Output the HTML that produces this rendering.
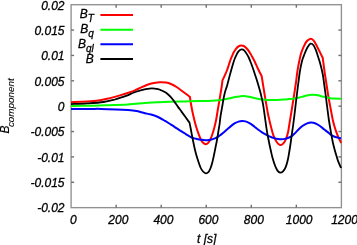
<!DOCTYPE html>
<html><head><meta charset="utf-8">
<style>
html,body{margin:0;padding:0;background:#fff;}
body{width:357px;height:245px;overflow:hidden;position:relative;font-family:"Liberation Sans",sans-serif;font-style:italic;font-size:12px;color:#000;}
svg{position:absolute;left:0;top:0;}
.txt{position:absolute;left:0;top:0;width:357px;height:245px;will-change:transform;-webkit-text-stroke:0.3px #000;}
.yl{position:absolute;right:292.5px;height:14px;line-height:14px;margin-top:-6.2px;white-space:nowrap;}
.xl{position:absolute;top:213.3px;width:40px;margin-left:-20px;text-align:center;line-height:14px;white-space:nowrap;}
.lg{position:absolute;right:263.2px;white-space:nowrap;line-height:14px;height:14px;}
.lg sub{font-size:10px;vertical-align:baseline;position:relative;top:4.1px;}
.ylab{position:absolute;left:0;top:0;transform-origin:0 0;transform:translate(-1.4px,133.5px) rotate(-90deg);white-space:nowrap;line-height:1;-webkit-text-stroke:0.1px #000;}
.ylab sub{font-size:9.9px;vertical-align:baseline;position:relative;top:5.1px;margin-left:-1.6px;}
.xt{position:absolute;left:197px;top:231.6px;white-space:nowrap;line-height:14px;}
</style></head><body>
<svg width="357" height="245" viewBox="0 0 357 245">
<rect x="71.10" y="4.70" width="270.30" height="202.95" fill="none" stroke="#909090" stroke-width="1.35"/>
<g stroke="#707070" stroke-width="1.4"><line x1="116.15" y1="207.65" x2="116.15" y2="204.65"/><line x1="116.15" y1="4.70" x2="116.15" y2="7.70"/><line x1="161.20" y1="207.65" x2="161.20" y2="204.65"/><line x1="161.20" y1="4.70" x2="161.20" y2="7.70"/><line x1="206.25" y1="207.65" x2="206.25" y2="204.65"/><line x1="206.25" y1="4.70" x2="206.25" y2="7.70"/><line x1="251.30" y1="207.65" x2="251.30" y2="204.65"/><line x1="251.30" y1="4.70" x2="251.30" y2="7.70"/><line x1="296.35" y1="207.65" x2="296.35" y2="204.65"/><line x1="296.35" y1="4.70" x2="296.35" y2="7.70"/><line x1="71.10" y1="30.07" x2="74.10" y2="30.07"/><line x1="341.40" y1="30.07" x2="338.40" y2="30.07"/><line x1="71.10" y1="55.44" x2="74.10" y2="55.44"/><line x1="341.40" y1="55.44" x2="338.40" y2="55.44"/><line x1="71.10" y1="80.81" x2="74.10" y2="80.81"/><line x1="341.40" y1="80.81" x2="338.40" y2="80.81"/><line x1="71.10" y1="106.17" x2="74.10" y2="106.17"/><line x1="341.40" y1="106.17" x2="338.40" y2="106.17"/><line x1="71.10" y1="131.54" x2="74.10" y2="131.54"/><line x1="341.40" y1="131.54" x2="338.40" y2="131.54"/><line x1="71.10" y1="156.91" x2="74.10" y2="156.91"/><line x1="341.40" y1="156.91" x2="338.40" y2="156.91"/><line x1="71.10" y1="182.28" x2="74.10" y2="182.28"/><line x1="341.40" y1="182.28" x2="338.40" y2="182.28"/></g>
<g fill="none" stroke-width="2.0" stroke-linejoin="round" stroke-linecap="butt">
<path stroke="#ff0000" d="M71.00 102.20 C73.67 102.10 82.17 101.92 87.00 101.60 C91.83 101.28 96.17 100.88 100.00 100.30 C103.83 99.72 106.67 98.92 110.00 98.10 C113.33 97.28 116.67 96.37 120.00 95.40 C123.33 94.43 127.50 93.13 130.00 92.30 C132.50 91.47 133.22 91.18 135.00 90.40 C136.78 89.62 138.63 88.55 140.70 87.60 C142.77 86.65 145.18 85.47 147.40 84.70 C149.62 83.93 151.90 83.42 154.00 83.00 C156.10 82.58 158.00 82.28 160.00 82.20 C162.00 82.12 164.17 82.20 166.00 82.50 C167.83 82.80 169.25 83.25 171.00 84.00 C172.75 84.75 174.67 85.83 176.50 87.00 C178.33 88.17 180.33 89.78 182.00 91.00 C183.67 92.22 185.18 93.32 186.50 94.30 C187.82 95.28 189.33 96.47 189.90 96.90 C190.08 98.08 190.58 101.57 191.00 104.00 C191.42 106.43 191.83 108.78 192.40 111.50 C192.97 114.22 193.75 117.67 194.40 120.30 C195.05 122.93 195.65 125.15 196.30 127.30 C196.95 129.45 197.58 131.25 198.30 133.20 C199.02 135.15 199.80 137.40 200.60 139.00 C201.40 140.60 202.25 141.93 203.10 142.80 C203.95 143.67 204.85 144.18 205.70 144.20 C206.55 144.22 207.43 143.67 208.20 142.90 C208.97 142.13 209.57 141.17 210.30 139.60 C211.03 138.03 211.90 135.60 212.60 133.50 C213.30 131.40 213.90 129.33 214.50 127.00 C215.10 124.67 215.60 122.67 216.20 119.50 C216.80 116.33 217.48 111.67 218.10 108.00 C218.72 104.33 219.30 101.08 219.90 97.50 C220.50 93.92 221.27 89.37 221.70 86.50 C222.13 83.63 222.37 81.33 222.50 80.30 C222.90 79.45 224.13 76.92 224.90 75.20 C225.67 73.48 226.45 71.70 227.10 70.00 C227.75 68.30 228.25 66.67 228.80 65.00 C229.35 63.33 229.87 61.47 230.40 60.00 C230.93 58.53 231.47 57.45 232.00 56.20 C232.53 54.95 232.93 53.73 233.60 52.50 C234.27 51.27 235.18 49.82 236.00 48.80 C236.82 47.78 237.65 46.97 238.50 46.40 C239.35 45.83 240.22 45.47 241.10 45.40 C241.98 45.33 242.90 45.52 243.80 46.00 C244.70 46.48 245.55 47.28 246.50 48.30 C247.45 49.32 248.58 50.73 249.50 52.10 C250.42 53.47 251.10 54.85 252.00 56.50 C252.90 58.15 253.97 60.08 254.90 62.00 C255.83 63.92 256.78 66.25 257.60 68.00 C258.42 69.75 259.13 71.17 259.80 72.50 C260.47 73.83 261.30 75.42 261.60 76.00 C261.72 76.67 261.87 77.33 262.30 80.00 C262.73 82.67 263.55 88.00 264.20 92.00 C264.85 96.00 265.57 100.33 266.20 104.00 C266.83 107.67 267.40 111.00 268.00 114.00 C268.60 117.00 269.25 119.67 269.80 122.00 C270.35 124.33 270.72 125.80 271.30 128.00 C271.88 130.20 272.43 132.90 273.30 135.20 C274.17 137.50 275.37 140.17 276.50 141.80 C277.63 143.43 278.92 144.77 280.10 145.00 C281.28 145.23 282.55 144.40 283.60 143.20 C284.65 142.00 285.63 139.75 286.40 137.80 C287.17 135.85 287.70 133.80 288.20 131.50 C288.70 129.20 288.87 127.25 289.40 124.00 C289.93 120.75 290.75 116.00 291.40 112.00 C292.05 108.00 292.75 103.50 293.30 100.00 C293.85 96.50 294.23 94.08 294.70 91.00 C295.17 87.92 295.67 84.67 296.10 81.50 C296.53 78.33 296.92 74.67 297.30 72.00 C297.68 69.33 298.02 67.58 298.40 65.50 C298.78 63.42 299.17 61.48 299.60 59.50 C300.03 57.52 300.32 55.73 301.00 53.60 C301.68 51.47 302.78 48.72 303.70 46.70 C304.62 44.68 305.45 42.80 306.50 41.50 C307.55 40.20 308.83 39.08 310.00 38.90 C311.17 38.72 312.30 39.10 313.50 40.40 C314.70 41.70 316.02 44.50 317.20 46.70 C318.38 48.90 319.68 51.75 320.60 53.60 C321.52 55.45 322.35 57.10 322.70 57.80 C322.88 59.17 323.43 63.30 323.80 66.00 C324.17 68.70 324.43 70.83 324.90 74.00 C325.37 77.17 326.03 81.33 326.60 85.00 C327.17 88.67 327.63 92.08 328.30 96.00 C328.97 99.92 329.85 104.50 330.60 108.50 C331.35 112.50 332.10 116.83 332.80 120.00 C333.50 123.17 334.10 125.20 334.80 127.50 C335.50 129.80 336.30 131.95 337.00 133.80 C337.70 135.65 338.30 137.07 339.00 138.60 C339.70 140.13 340.83 142.27 341.20 143.00"/>
<path stroke="#00ff00" d="M71.00 106.10 C74.17 106.03 84.33 105.83 90.00 105.70 C95.67 105.57 98.67 105.52 105.00 105.30 C111.33 105.08 121.33 104.77 128.00 104.40 C134.67 104.03 140.00 103.45 145.00 103.10 C150.00 102.75 153.83 102.52 158.00 102.30 C162.17 102.08 165.50 101.95 170.00 101.80 C174.50 101.65 180.00 101.52 185.00 101.40 C190.00 101.28 195.50 101.22 200.00 101.10 C204.50 100.98 208.83 100.85 212.00 100.70 C215.17 100.55 217.12 100.38 219.00 100.20 C220.88 100.02 221.68 99.87 223.30 99.60 C224.92 99.33 226.68 99.02 228.70 98.60 C230.72 98.18 233.60 97.47 235.40 97.10 C237.20 96.73 238.15 96.58 239.50 96.40 C240.85 96.22 241.97 95.95 243.50 96.00 C245.03 96.05 246.72 96.33 248.70 96.70 C250.68 97.07 253.15 97.73 255.40 98.20 C257.65 98.67 260.10 99.22 262.20 99.50 C264.30 99.78 265.53 99.83 268.00 99.90 C270.47 99.97 274.33 99.95 277.00 99.90 C279.67 99.85 282.00 99.73 284.00 99.60 C286.00 99.47 287.22 99.28 289.00 99.10 C290.78 98.92 292.63 98.87 294.70 98.50 C296.77 98.13 299.15 97.45 301.40 96.90 C303.65 96.35 306.43 95.55 308.20 95.20 C309.97 94.85 310.58 94.82 312.00 94.80 C313.42 94.78 314.80 94.77 316.70 95.10 C318.60 95.43 321.15 96.28 323.40 96.80 C325.65 97.32 328.43 97.92 330.20 98.20 C331.97 98.48 332.20 98.42 334.00 98.50 C335.80 98.58 339.83 98.67 341.00 98.70"/>
<path stroke="#0000ff" d="M71.00 108.90 C74.17 108.90 85.00 108.90 90.00 108.90 C95.00 108.90 96.67 108.82 101.00 108.90 C105.33 108.98 111.50 109.20 116.00 109.40 C120.50 109.60 124.60 109.83 128.00 110.10 C131.40 110.37 134.23 110.65 136.40 111.00 C138.57 111.35 139.57 111.83 141.00 112.20 C142.43 112.57 143.50 112.85 145.00 113.20 C146.50 113.55 148.33 113.87 150.00 114.30 C151.67 114.73 153.33 115.18 155.00 115.80 C156.67 116.42 158.33 117.15 160.00 118.00 C161.67 118.85 163.33 119.90 165.00 120.90 C166.67 121.90 168.42 123.02 170.00 124.00 C171.58 124.98 172.93 125.78 174.50 126.80 C176.07 127.82 177.75 129.03 179.40 130.10 C181.05 131.17 182.88 132.27 184.40 133.20 C185.92 134.13 187.10 134.92 188.50 135.70 C189.90 136.48 191.38 137.35 192.80 137.90 C194.22 138.45 195.60 138.68 197.00 139.00 C198.40 139.32 199.78 139.58 201.20 139.80 C202.62 140.02 204.20 140.27 205.50 140.30 C206.80 140.33 207.85 140.18 209.00 140.00 C210.15 139.82 211.32 139.50 212.40 139.20 C213.48 138.90 214.53 138.62 215.50 138.20 C216.47 137.78 217.28 137.30 218.20 136.70 C219.12 136.10 219.95 135.42 221.00 134.60 C222.05 133.78 223.32 132.82 224.50 131.80 C225.68 130.78 226.93 129.53 228.10 128.50 C229.27 127.47 230.35 126.48 231.50 125.60 C232.65 124.72 233.83 123.87 235.00 123.20 C236.17 122.53 237.30 121.97 238.50 121.60 C239.70 121.23 241.03 121.03 242.20 121.00 C243.37 120.97 244.45 121.13 245.50 121.40 C246.55 121.67 247.50 122.10 248.50 122.60 C249.50 123.10 250.50 123.72 251.50 124.40 C252.50 125.08 253.42 125.85 254.50 126.70 C255.58 127.55 256.75 128.57 258.00 129.50 C259.25 130.43 260.67 131.45 262.00 132.30 C263.33 133.15 264.67 133.88 266.00 134.60 C267.33 135.32 268.67 136.02 270.00 136.60 C271.33 137.18 272.67 137.70 274.00 138.10 C275.33 138.50 276.73 138.80 278.00 139.00 C279.27 139.20 280.43 139.32 281.60 139.30 C282.77 139.28 283.85 139.17 285.00 138.90 C286.15 138.63 287.43 138.13 288.50 137.70 C289.57 137.27 290.48 136.90 291.40 136.30 C292.32 135.70 293.15 134.88 294.00 134.10 C294.85 133.32 295.67 132.45 296.50 131.60 C297.33 130.75 298.02 129.93 299.00 129.00 C299.98 128.07 301.13 126.90 302.40 126.00 C303.67 125.10 305.13 124.18 306.60 123.60 C308.07 123.02 309.80 122.57 311.20 122.50 C312.60 122.43 313.67 122.70 315.00 123.20 C316.33 123.70 317.70 124.50 319.20 125.50 C320.70 126.50 322.62 128.13 324.00 129.20 C325.38 130.27 326.38 131.00 327.50 131.90 C328.62 132.80 329.62 133.83 330.70 134.60 C331.78 135.37 332.87 136.00 334.00 136.50 C335.13 137.00 336.32 137.30 337.50 137.60 C338.68 137.90 340.50 138.18 341.10 138.30"/>
<path stroke="#000000" stroke-width="1.8" d="M71.00 104.10 C73.63 103.98 81.37 103.75 86.80 103.40 C92.23 103.05 98.90 102.65 103.60 102.00 C108.30 101.35 112.27 100.18 115.00 99.50 C117.73 98.82 118.03 98.55 120.00 97.90 C121.97 97.25 124.47 96.50 126.80 95.60 C129.13 94.70 131.68 93.37 134.00 92.50 C136.32 91.63 138.47 91.02 140.70 90.40 C142.93 89.78 145.48 89.13 147.40 88.80 C149.32 88.47 150.43 88.33 152.20 88.40 C153.97 88.47 156.53 88.90 158.00 89.20 C159.47 89.50 159.65 89.60 161.00 90.20 C162.35 90.80 164.42 91.60 166.10 92.80 C167.78 94.00 169.70 95.88 171.10 97.40 C172.50 98.92 173.38 100.37 174.50 101.90 C175.62 103.43 176.63 104.98 177.80 106.60 C178.97 108.22 180.28 109.93 181.50 111.60 C182.72 113.27 183.98 115.05 185.10 116.60 C186.22 118.15 187.47 119.90 188.20 120.90 C188.93 121.90 189.28 122.32 189.50 122.60 C189.68 123.50 190.20 125.93 190.60 128.00 C191.00 130.07 191.43 132.58 191.90 135.00 C192.37 137.42 192.90 140.08 193.40 142.50 C193.90 144.92 194.40 147.38 194.90 149.50 C195.40 151.62 195.85 153.28 196.40 155.20 C196.95 157.12 197.52 158.95 198.20 161.00 C198.88 163.05 199.70 165.75 200.50 167.50 C201.30 169.25 202.10 170.53 203.00 171.50 C203.90 172.47 204.97 173.25 205.90 173.30 C206.83 173.35 207.82 172.68 208.60 171.80 C209.38 170.92 209.98 169.55 210.60 168.00 C211.22 166.45 211.73 164.67 212.30 162.50 C212.87 160.33 213.45 157.58 214.00 155.00 C214.55 152.42 215.12 149.42 215.60 147.00 C216.08 144.58 216.50 142.67 216.90 140.50 C217.30 138.33 217.67 136.08 218.00 134.00 C218.33 131.92 218.63 129.67 218.90 128.00 C219.17 126.33 219.35 125.83 219.60 124.00 C219.85 122.17 220.07 119.33 220.40 117.00 C220.73 114.67 221.25 112.00 221.60 110.00 C221.95 108.00 222.22 106.67 222.50 105.00 C222.78 103.33 223.00 101.67 223.30 100.00 C223.60 98.33 223.92 96.67 224.30 95.00 C224.68 93.33 225.15 91.50 225.60 90.00 C226.05 88.50 226.42 88.00 227.00 86.00 C227.58 84.00 228.39 80.67 229.10 78.00 C229.81 75.33 230.50 72.67 231.25 70.00 C232.00 67.33 232.97 64.00 233.60 62.00 C234.22 60.00 234.52 59.20 235.00 58.00 C235.48 56.80 235.92 55.92 236.50 54.80 C237.08 53.68 237.68 52.20 238.50 51.30 C239.32 50.40 240.42 49.52 241.40 49.40 C242.38 49.28 243.45 49.73 244.40 50.60 C245.35 51.47 246.42 53.53 247.10 54.60 C247.78 55.67 247.92 55.77 248.50 57.00 C249.08 58.23 249.88 60.17 250.60 62.00 C251.32 63.83 252.10 66.00 252.80 68.00 C253.50 70.00 254.13 72.00 254.80 74.00 C255.47 76.00 256.17 78.00 256.80 80.00 C257.43 82.00 258.02 84.00 258.60 86.00 C259.18 88.00 259.78 90.00 260.30 92.00 C260.82 94.00 261.25 96.00 261.70 98.00 C262.15 100.00 262.58 101.67 263.00 104.00 C263.42 106.33 263.82 109.33 264.20 112.00 C264.58 114.67 264.95 117.50 265.30 120.00 C265.65 122.50 265.95 124.67 266.30 127.00 C266.65 129.33 267.02 131.83 267.40 134.00 C267.78 136.17 268.22 138.08 268.60 140.00 C268.98 141.92 269.33 143.75 269.70 145.50 C270.07 147.25 270.33 148.47 270.80 150.50 C271.27 152.53 271.78 155.15 272.50 157.70 C273.22 160.25 274.27 163.65 275.10 165.80 C275.93 167.95 276.65 169.45 277.50 170.60 C278.35 171.75 279.28 172.58 280.20 172.70 C281.12 172.82 282.07 172.28 283.00 171.30 C283.93 170.32 284.98 168.77 285.80 166.80 C286.62 164.83 287.28 162.22 287.90 159.50 C288.52 156.78 289.02 153.42 289.50 150.50 C289.98 147.58 290.38 144.92 290.80 142.00 C291.22 139.08 291.58 136.00 292.00 133.00 C292.42 130.00 292.83 127.50 293.30 124.00 C293.77 120.50 294.32 116.00 294.80 112.00 C295.28 108.00 295.80 103.33 296.20 100.00 C296.60 96.67 296.87 94.67 297.20 92.00 C297.53 89.33 297.77 87.33 298.20 84.00 C298.63 80.67 299.33 75.08 299.80 72.00 C300.27 68.92 300.58 67.50 301.00 65.50 C301.42 63.50 301.82 61.65 302.30 60.00 C302.78 58.35 303.38 56.97 303.90 55.60 C304.42 54.23 304.77 53.23 305.40 51.80 C306.03 50.37 306.83 48.35 307.70 47.00 C308.57 45.65 309.63 43.98 310.60 43.70 C311.57 43.42 312.62 44.22 313.50 45.30 C314.38 46.38 315.22 48.55 315.90 50.20 C316.58 51.85 316.92 53.10 317.60 55.20 C318.28 57.30 319.15 59.67 320.00 62.80 C320.85 65.93 321.98 70.30 322.70 74.00 C323.42 77.70 323.78 81.33 324.30 85.00 C324.82 88.67 325.30 92.17 325.80 96.00 C326.30 99.83 326.78 104.00 327.30 108.00 C327.82 112.00 328.30 115.97 328.90 120.00 C329.50 124.03 330.25 128.50 330.90 132.20 C331.55 135.90 332.18 139.32 332.80 142.20 C333.42 145.08 333.98 147.20 334.60 149.50 C335.22 151.80 335.88 153.98 336.50 156.00 C337.12 158.02 337.53 159.60 338.30 161.60 C339.07 163.60 340.63 166.93 341.10 168.00"/>
<line x1="100.4" y1="15" x2="133" y2="15" stroke="#ff0000"/>
<line x1="100.4" y1="29.7" x2="133" y2="29.7" stroke="#00ff00"/>
<line x1="100.4" y1="44.3" x2="133" y2="44.3" stroke="#0000ff"/>
<line x1="100.4" y1="59" x2="133" y2="59" stroke="#000000"/>
</g>
</svg>
<div class="txt"><div class="yl" style="top:4.70px">0.02</div><div class="yl" style="top:30.07px">0.015</div><div class="yl" style="top:55.44px">0.01</div><div class="yl" style="top:80.81px">0.005</div><div class="yl" style="top:106.17px">0</div><div class="yl" style="top:131.54px">-0.005</div><div class="yl" style="top:156.91px">-0.01</div><div class="yl" style="top:182.28px">-0.015</div><div class="yl" style="top:207.65px">-0.02</div>
<div class="xl" style="left:73.30px">0</div><div class="xl" style="left:118.35px">200</div><div class="xl" style="left:163.40px">400</div><div class="xl" style="left:208.45px">600</div><div class="xl" style="left:253.80px">800</div><div class="xl" style="left:299.15px">1000</div><div class="xl" style="left:344.50px">1200</div>
<div class="lg" style="top:7px">B<sub>T</sub></div>
<div class="lg" style="top:22px">B<sub>q</sub></div>
<div class="lg" style="top:37px">B<sub>ql</sub></div>
<div class="lg" style="top:52px">B</div>
<div class="ylab">B<sub>component</sub></div>
<div class="xt">t [s]</div></div>
</body></html>
